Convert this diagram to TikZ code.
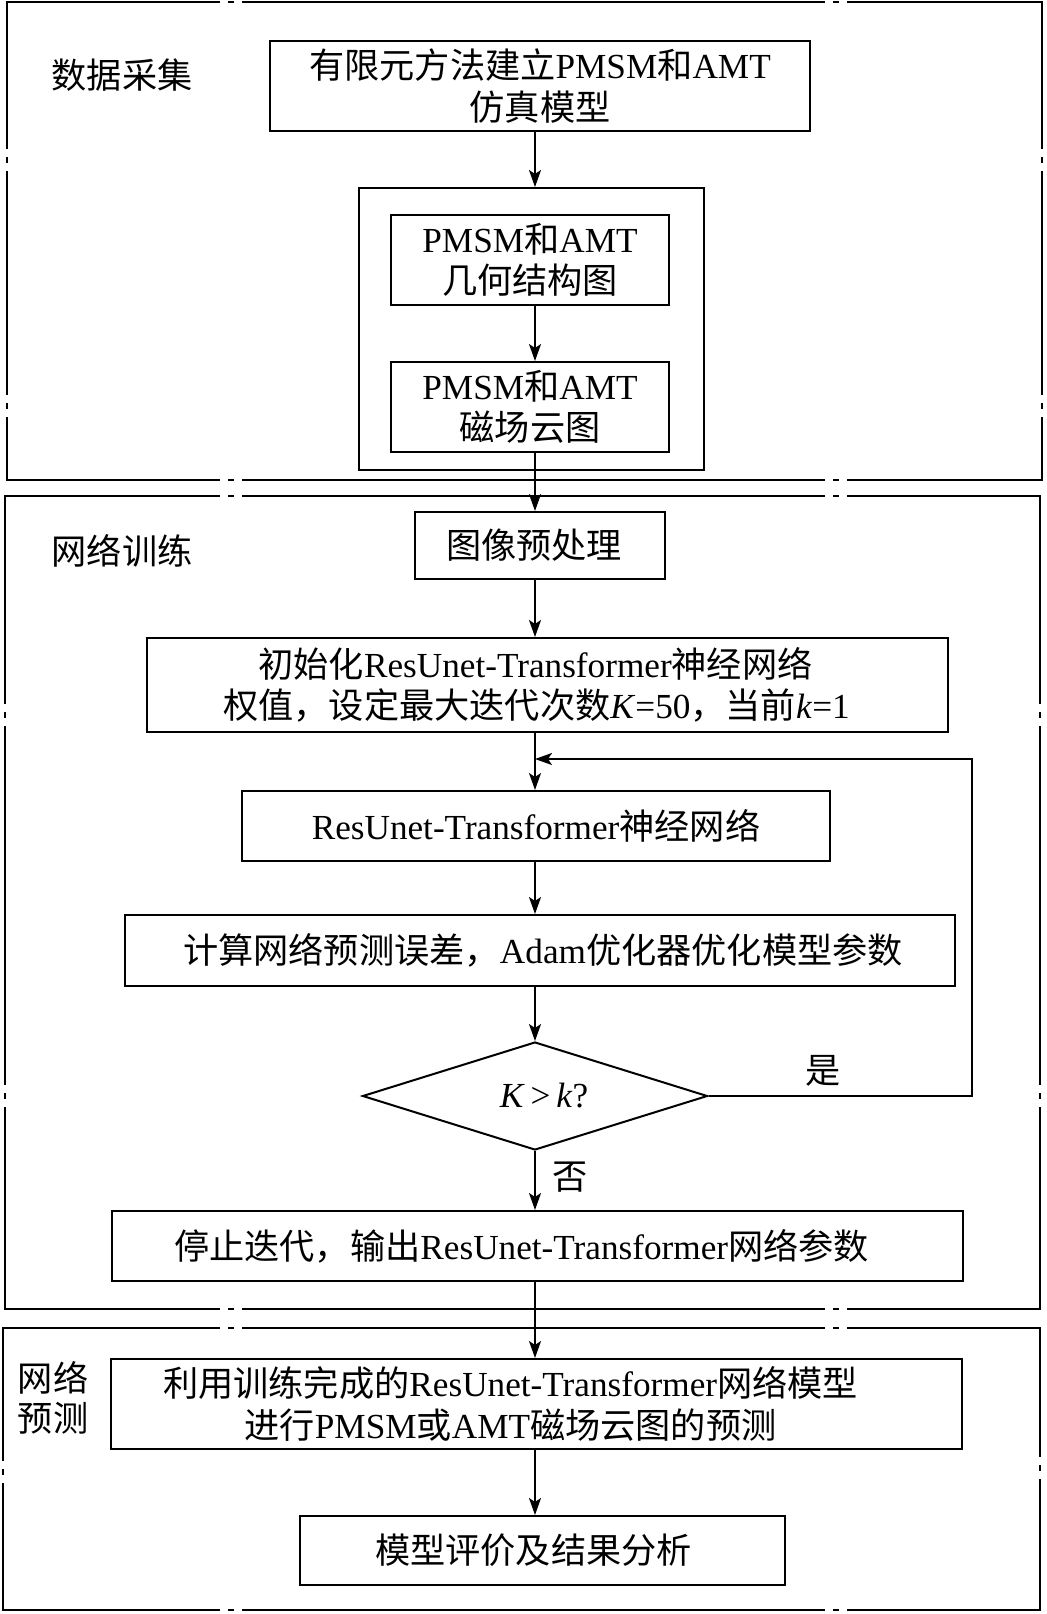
\documentclass[tikz,border=0pt]{standalone}
\usepackage{fontspec}
\setmainfont{Liberation Serif}
\newfontfamily\cjk{Noto Sans CJK SC}
\newcommand\zh[1]{{\cjk #1}}
\newcommand\tsh[1]{\hspace*{#1}}
\usetikzlibrary{shapes.geometric,arrows.meta}
\newcommand\hgapmark[2]{\fill[white] (#1-11,#2-4) rectangle (#1+11,#2+4); \draw[frameline] (#1-3,#2) -- (#1+3,#2);}
\newcommand\vgapmark[2]{\fill[white] (#1-4,#2-11) rectangle (#1+4,#2+11); \draw[frameline] (#1,#2-3) -- (#1,#2+3);}
\begin{document}
\begin{tikzpicture}[x=0.5pt,y=-0.5pt,
  every node/.style={font=\fontsize{17.6pt}{20.6pt}\selectfont},
  box/.style={draw,line width=1pt,inner sep=0pt,align=center},
  frameline/.style={line width=1pt},
  arr/.style={line width=1pt,-{Stealth[length=8.5pt,width=6pt,inset=2pt]}},
  lbl/.style={align=center,inner sep=0pt}]
\useasboundingbox[fill=white] (0,0) rectangle (1046,1614);

% section frames
\draw[frameline] (7,2) rectangle (1042,480);
\draw[frameline] (5,496) rectangle (1040,1309);
\draw[frameline] (3,1328) rectangle (1040,1610);
\foreach \yy in {2,480,496,1309,1328,1610}{\hgapmark{231}{\yy}\hgapmark{836}{\yy}}
\foreach \yy in {160,406}{\vgapmark{7}{\yy}\vgapmark{1042}{\yy}}
\foreach \yy in {715,1096}{\vgapmark{5}{\yy}\vgapmark{1040}{\yy}}
\vgapmark{3}{1472}\vgapmark{1040}{1468}

\coordinate (sp) at (535,0);

% section labels
\node[lbl] (L1) at (122,75) {\zh{数据采集}};
\node[lbl] (L2) at (122,551) {\zh{网络训练}};
\node[lbl,font=\fontsize{17.6pt}{20pt}\selectfont] (L3) at (53,1398) {\zh{网络}\\\zh{预测}};

% section 1
\node[box,minimum width=270pt,minimum height=45pt] (A) at (540,86)
  {\zh{有限元方法建立}PMSM\zh{和}AMT\\\zh{仿真模型}};
\node[box,minimum width=172.5pt,minimum height=141pt] (cont) at (531.5,329) {};
\node[box,minimum width=139pt,minimum height=45pt] (B) at (530,260)
  {PMSM\zh{和}AMT\\\zh{几何结构图}};
\node[box,minimum width=139pt,minimum height=45pt] (C) at (530,407)
  {PMSM\zh{和}AMT\\\zh{磁场云图}};

% section 2
\node[box,minimum width=125pt,minimum height=33.5pt] (D) at (540,545.5) {\zh{图像预处理}\tsh{6pt}};
\node[box,minimum width=400.5pt,minimum height=47pt] (E) at (547.5,685)
  {\zh{初始化}ResUnet-Transformer\zh{神经网络}\tsh{12pt}\\\zh{权值，设定最大迭代次数}\textit{K}=50\zh{，当前}\textit{k}=1\tsh{11pt}};
\node[box,minimum width=294pt,minimum height=35pt] (F) at (536,826)
  {ResUnet-Transformer\zh{神经网络}};
\node[box,minimum width=415pt,minimum height=35.5pt] (G) at (540,950.5)
  {\tsh{3pt}\zh{计算网络预测误差，}Adam\zh{优化器优化模型参数}};
\node[draw,line width=1pt,shape=diamond,aspect=3.2,minimum width=172.5pt,minimum height=54pt,inner sep=0pt] (K) at (535,1096)
  {\tsh{9pt}\textit{K}\,>\,\textit{k}?};
\node[box,minimum width=425.5pt,minimum height=35pt] (H) at (537.5,1246)
  {\zh{停止迭代，输出}ResUnet-Transformer\zh{网络参数}\tsh{16pt}};

% section 3
\node[box,minimum width=425.5pt,minimum height=45pt] (I) at (536.5,1404)
  {\zh{利用训练完成的}ResUnet-Transformer\zh{网络模型}\tsh{26pt}\\\zh{进行}PMSM\zh{或}AMT\zh{磁场云图的预测}\tsh{26pt}};
\node[box,minimum width=242.5pt,minimum height=34.5pt] (J) at (542.5,1550.5)
  {\zh{模型评价及结果分析}\tsh{9pt}};

% labels on branches
\node[lbl] (yes) at (823,1071) {\zh{是}};
\node[lbl] (no) at (570,1177) {\zh{否}};

% connectors
\draw[arr] (A.south -| sp) -- (cont.north -| sp);
\draw[arr] (B.south -| sp) -- (C.north -| sp);
\draw[arr] (C.south -| sp) -- (D.north -| sp);
\draw[arr] (D.south -| sp) -- (E.north -| sp);
\draw[arr] (E.south -| sp) -- (F.north -| sp);
\draw[arr] (F.south -| sp) -- (G.north -| sp);
\draw[arr] (G.south -| sp) -- (K.north);
\draw[arr] (K.south) -- (H.north -| sp);
\draw[arr] (H.south -| sp) -- (I.north -| sp);
\draw[arr] (I.south -| sp) -- (J.north -| sp);
\coordinate (lc1) at (972,1096);
\coordinate (lc2) at (972,759);
\coordinate (lj) at (535,759);
\draw[arr] (K.east) -- (lc1) -- (lc2) -- (lj);
\end{tikzpicture}
\end{document}
